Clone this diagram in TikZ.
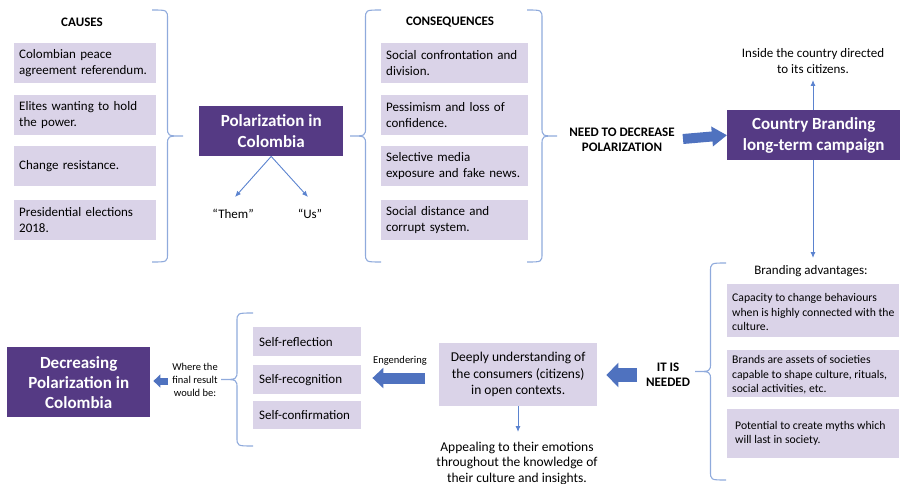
\documentclass[tikz,border=0pt]{standalone}
\usepackage{fontspec}
\setmainfont{Carlito}
\usetikzlibrary{arrows.meta}
\definecolor{purp}{HTML}{553A84}
\definecolor{lav}{HTML}{DAD3E8}
\definecolor{bracec}{HTML}{8FAADC}
\definecolor{arrc}{HTML}{5B83CF}
\definecolor{thickc}{HTML}{4F72BF}
% curly brace: x0, ytop, ybot, amplitude (signed: + points right, - points left)
\newcommand{\curlybrace}[4]{%
  \draw[braceline] (#1,#2) .. controls ({#1+#4/2},#2) .. ({#1+#4/2},{#2+9})
    -- ({#1+#4/2},{(#2+#3)/2-9}) .. controls ({#1+#4/2},{(#2+#3)/2}) .. ({#1+#4},{(#2+#3)/2})
    .. controls ({#1+#4/2},{(#2+#3)/2}) .. ({#1+#4/2},{(#2+#3)/2+9})
    -- ({#1+#4/2},{#3-9}) .. controls ({#1+#4/2},#3) .. (#1,#3);}
\begin{document}
\begin{tikzpicture}[x=1pt,y=-1pt,
  lavbox/.style={fill=lav, anchor=north west, inner xsep=5pt, inner ysep=0pt, align=left,
    font=\fontsize{13}{16}\selectfont},
  advbox/.style={fill=lav, anchor=north west, inner sep=0pt, minimum width=172pt},
  advtext/.style={anchor=west, inner sep=0pt, align=left, font=\fontsize{11.7}{14.3}\selectfont},
  purpbox/.style={fill=purp, text=white, anchor=north west, align=center, inner sep=0pt,
    font=\fontsize{17}{21}\bfseries\selectfont},
  braceline/.style={draw=bracec, line width=1.1pt},
  thinarrow/.style={draw=arrc, line width=0.9pt, -{Latex[length=6pt,width=5pt]}},
  title/.style={font=\fontsize{13}{15}\bfseries\selectfont, align=center, inner sep=0pt},
  plain/.style={font=\fontsize{13}{16}\selectfont, align=center, inner sep=0pt},
  small/.style={font=\fontsize{10.5}{13}\selectfont, align=center, inner sep=0pt}
]
\useasboundingbox (0,0) rectangle (902,484);

% ---------- causes ----------
\node[title] (causes) at (82,22) {CAUSES};
\node[lavbox, text width=132pt, minimum height=40pt] (c1) at (14,43) {Colombian peace\\agreement referendum.};
\node[lavbox, text width=132pt, minimum height=40pt] (c2) at (14,95) {Elites wanting to hold\\the power.};
\node[lavbox, text width=132pt, minimum height=40pt] (c3) at (14,146) {Change resistance.};
\node[lavbox, text width=132pt, minimum height=40pt] (c4) at (14,200) {Presidential elections\\2018.};
\curlybrace{152}{10}{262}{31}

% ---------- polarization ----------
\node[purpbox, minimum width=144pt, minimum height=50pt] (pol) at (199,106) {Polarization in\\Colombia};
\node[plain] (them) at (233,214) {“Them”};
\node[plain] (us) at (310,214) {“Us”};
\coordinate (themtip) at (235,197);
\coordinate (ustip) at (308,197);
\draw[thinarrow] (pol.south) -- (themtip);
\draw[thinarrow] (pol.south) -- (ustip);

% ---------- consequences ----------
\curlybrace{381}{10}{262}{-31}
\node[title] (cons) at (450,22) {CONSEQUENCES};
\node[lavbox, text width=137pt, minimum height=40pt] (k1) at (381,43) {Social confrontation and\\division.};
\node[lavbox, text width=137pt, minimum height=40pt] (k2) at (381,95) {Pessimism and loss of\\confidence.};
\node[lavbox, text width=137pt, minimum height=40pt] (k3) at (381,146) {Selective media\\exposure and fake news.};
\node[lavbox, text width=137pt, minimum height=40pt] (k4) at (381,200) {Social distance and\\corrupt system.};
\curlybrace{527}{10}{262}{30}

% ---------- need ----------
\node[title] (need) at (622,140) {NEED TO DECREASE\\POLARIZATION};
\node[purpbox, minimum width=173pt, minimum height=50pt] (cb) at (727,110) {Country Branding\\long-term campaign};
\coordinate (needend) at (683,139);
\draw[thickc, line width=10pt, -{Triangle[length=15pt,width=19pt]}] (needend) -- (cb.west);

\node[plain] (inside) at (813,61) {Inside the country directed\\to its citizens.};
\coordinate (insidetip) at (813,80);
\draw[thinarrow] (cb.north -| insidetip) -- (insidetip);
\coordinate (advtip) at (813,258);
\draw[thinarrow] (cb.south -| advtip) -- (advtip);

% ---------- branding advantages ----------
\node[plain] (badv) at (811,271) {Branding advantages:};
\node[advbox, minimum height=53pt] (a1) at (727,284) {};
\node[advtext] (a1t) at ([xshift=5pt,yshift=-1.5pt]a1.west) {Capacity to change behaviours\\when is highly connected with the\\culture.};
\node[advbox, minimum height=47pt] (a2) at (727,350) {};
\node[advtext] (a2t) at ([xshift=5pt,yshift=-1pt]a2.west) {Brands are assets of societies\\capable to shape culture, rituals,\\social activities, etc.};
\node[advbox, minimum height=49pt] (a3) at (727,409) {};
\node[advtext] (a3t) at ([xshift=8pt]a3.west) {Potential to create myths which\\will last in society.};
\curlybrace{726}{263}{480}{-31}

\node[title] (needed) at (668,375) {IT IS\\NEEDED};

% ---------- deeply ----------
\node[fill=lav, anchor=north west, inner sep=0pt, minimum width=158pt, minimum height=63pt, align=center,
  font=\fontsize{13.5}{16.5}\selectfont] (deep) at (439,343) {Deeply understanding of\\the consumers (citizens)\\in open contexts.};
\coordinate (neededend) at (637,375);
\draw[thickc, line width=14pt, -{Triangle[length=12pt,width=24pt]}] (neededend) -- ([xshift=9pt]deep.east |- neededend);

\node[font=\fontsize{13.5}{15.5}\selectfont, align=center, inner sep=0pt] (appeal) at (517,463)
  {Appealing to their emotions\\throughout the knowledge of\\their culture and insights.};
\coordinate (appealtip) at (518,432);
\draw[thinarrow] (deep.south -| appealtip) -- (appealtip);

\node[font=\fontsize{10.5}{12}\selectfont, inner sep=0pt] (eng) at (400,361) {Engendering};

% ---------- self ----------
\node[lavbox, inner xsep=6pt, text width=96pt, minimum height=29pt] (s1) at (253,327) {Self-reflection};
\node[lavbox, inner xsep=6pt, text width=96pt, minimum height=29pt] (s2) at (253,365) {Self-recognition};
\node[lavbox, inner xsep=6pt, text width=96pt, minimum height=28pt] (s3) at (253,401) {Self-confirmation};
\coordinate (engend) at (425,378);
\draw[thickc, line width=11pt, -{Triangle[length=11pt,width=20pt]}] (engend) -- ([xshift=11pt]s2.east |- engend);
\curlybrace{253}{313}{446}{-32}

\node[small] (where) at (195,380) {Where the\\final result\\would be:};

% ---------- decreasing ----------
\node[purpbox, minimum width=143pt, minimum height=70pt, font=\fontsize{17}{20}\bfseries\selectfont] (dec) at (7,347) {Decreasing\\Polarization in\\Colombia};
\coordinate (whereend) at (168,381);
\draw[thickc, line width=7pt, -{Triangle[length=7pt,width=13pt]}] (whereend) -- ([xshift=3pt]dec.east |- whereend);
\end{tikzpicture}
\end{document}
